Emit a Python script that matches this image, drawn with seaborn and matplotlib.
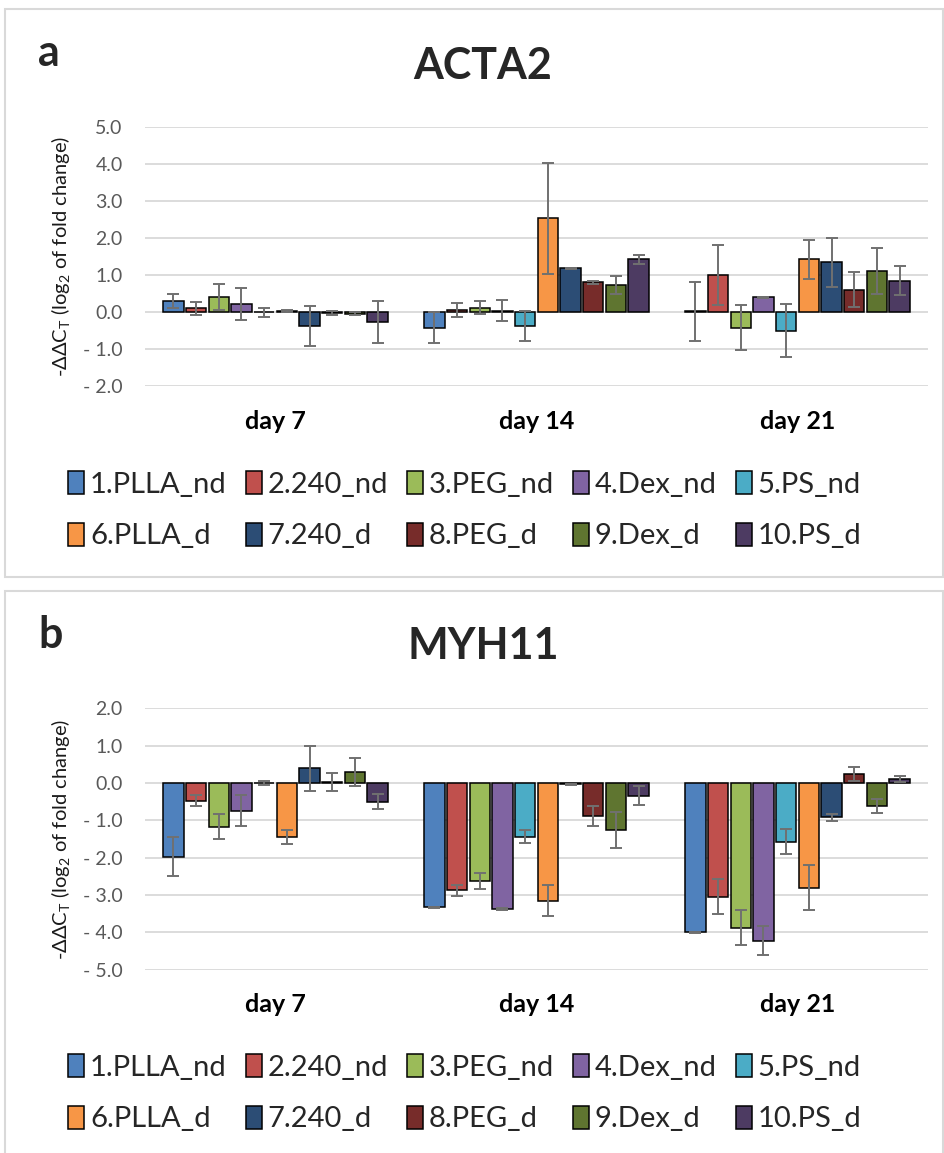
import numpy as np
import pandas as pd
import matplotlib
matplotlib.use('Agg')
import matplotlib.pyplot as plt
from matplotlib.patches import Rectangle
import seaborn as sns

# groups / days
groups = ['1.PLLA_nd', '2.240_nd', '3.PEG_nd', '4.Dex_nd', '5.PS_nd',
          '6.PLLA_d', '7.240_d', '8.PEG_d', '9.Dex_d', '10.PS_d']
days = ['day 7', 'day 14', 'day 21']
colors = ['#4F81BD', '#C0504D', '#9BBB59', '#8064A2', '#4BACC6',
          '#F79646', '#2C4D75', '#772C2A', '#5F7530', '#4D3B62']

# ACTA2 (-ddCt), one list per day, groups in order
acta2_d7 = [0.30, 0.10, 0.40, 0.22, -0.01, 0.03, -0.37, -0.03, -0.04, -0.27]
acta2_d14 = [-0.42, 0.06, 0.12, 0.04, -0.37, 2.53, 1.18, 0.80, 0.73, 1.42]
acta2_d21 = [0.02, 1.00, -0.42, 0.40, -0.50, 1.42, 1.34, 0.60, 1.12, 0.85]
acta2_err_d7 = [0.18, 0.18, 0.35, 0.42, 0.12, 0.04, 0.53, 0.05, 0.05, 0.56]
acta2_err_d14 = [0.41, 0.19, 0.17, 0.28, 0.40, 1.50, 0.02, 0.03, 0.25, 0.12]
acta2_err_d21 = [0.80, 0.82, 0.60, 0.02, 0.72, 0.53, 0.65, 0.47, 0.62, 0.40]

# MYH11 (-ddCt)
myh11_d7 = [-1.97, -0.47, -1.17, -0.74, 0.00, -1.45, 0.39, 0.03, 0.30, -0.50]
myh11_d14 = [-3.33, -2.87, -2.63, -3.37, -1.44, -3.15, -0.04, -0.88, -1.27, -0.34]
myh11_d21 = [-4.00, -3.05, -3.87, -4.22, -1.57, -2.80, -0.92, 0.24, -0.62, 0.10]
myh11_err_d7 = [0.52, 0.15, 0.33, 0.41, 0.05, 0.18, 0.61, 0.25, 0.38, 0.20]
myh11_err_d14 = [0.02, 0.15, 0.22, 0.02, 0.18, 0.42, 0.01, 0.26, 0.48, 0.25]
myh11_err_d21 = [0.02, 0.47, 0.47, 0.38, 0.34, 0.60, 0.10, 0.20, 0.18, 0.08]

FONT = ['Lato', 'DejaVu Sans']
sns.set_theme(style='white')
plt.rcParams['font.family'] = FONT
plt.rcParams['mathtext.fontset'] = 'custom'
plt.rcParams['mathtext.rm'] = 'Lato'
plt.rcParams['mathtext.it'] = 'Lato:italic'


def make_df(vals, errs):
    rows = []
    for d, v_list, e_list in zip(days, vals, errs):
        for g, v, e in zip(groups, v_list, e_list):
            rows.append({'day': d, 'group': g, 'value': v, 'err': e})
    return pd.DataFrame(rows)


def fmt_tick(v):
    return '%.1f' % v if v >= 0 else '- %.1f' % abs(v)


def draw_panel(fig, rect, df, title, letter, ylim, title_y, letter_y, leg_y):
    ax = fig.add_axes(rect)
    sns.barplot(data=df, x='day', y='value', hue='group', hue_order=groups,
                palette=colors, order=days, width=0.87, gap=0.1, saturation=1,
                edgecolor='black', linewidth=1.1, errorbar=None, ax=ax)

    # error bars on each bar (containers: one per group)
    bar_conts = list(ax.containers)
    for k, cont in enumerate(bar_conts):
        sub = df[df['group'] == groups[k]].set_index('day').loc[days]
        for bar, v, e in zip(cont, sub['value'], sub['err']):
            x = bar.get_x() + bar.get_width() / 2
            ax.errorbar(x, v, yerr=e, color='#707070', lw=1.4,
                        capsize=4.5, capthick=1.4, zorder=5)

    ax.set_ylim(*ylim)
    ax.set_xlim(-0.5, 2.5)
    ticks = np.arange(ylim[0], ylim[1] + 0.01, 1.0)
    ax.set_yticks(ticks)
    ax.set_yticklabels([fmt_tick(t) for t in ticks], color='#595959', fontsize=14)
    ax.yaxis.grid(True, color='#d9d9d9', lw=1.3)
    ax.set_axisbelow(True)
    for s in ax.spines.values():
        s.set_visible(False)
    ax.tick_params(axis='both', length=0)
    ax.tick_params(axis='y', pad=16)
    ax.tick_params(axis='x', pad=17)
    for lab in ax.get_xticklabels():
        lab.set_fontweight('bold')
        lab.set_fontsize(18)
        lab.set_color('black')
    ax.set_xlabel('')
    ax.set_ylabel(r'-$\Delta\Delta$C$_\mathregular{T}$ (log$_\mathregular{2}$ of fold change)',
                  fontsize=14.5, color='#1a1a1a', labelpad=8)

    # legend: row-major order, 2 rows x 5 columns
    handles, labels = ax.get_legend_handles_labels()
    order = [i + 5 * r for i in range(5) for r in range(2)]
    ax.get_legend().remove()
    ax.legend([handles[i] for i in order], [labels[i] for i in order],
              loc='upper left', bbox_to_anchor=(68 / 944, leg_y),
              bbox_transform=fig.transFigure, ncol=5, frameon=False,
              fontsize=21, handlelength=0.55, handleheight=0.85,
              handletextpad=0.2, columnspacing=0.65, labelspacing=0.85,
              borderaxespad=0, borderpad=0)

    fig.text(483 / 944, title_y, title,
             ha='center', va='center', fontsize=31, fontweight='bold')
    fig.text(38 / 944, letter_y, letter, ha='left', va='center',
             fontsize=31, fontweight='bold')
    return ax


fig = plt.figure(figsize=(9.44, 11.53), dpi=100)
W, H = 944.0, 1153.0

# panel frames
fig.patches.append(Rectangle((5 / W, 1 - 577 / H), 0.999 - 5 / W, (577 - 9) / H,
                             transform=fig.transFigure, fill=False,
                             edgecolor='#d9d9d9', lw=1.5))
fig.patches.append(Rectangle((5 / W, 1 - 1160 / H), 0.999 - 5 / W, (1160 - 591) / H,
                             transform=fig.transFigure, fill=False,
                             edgecolor='#d9d9d9', lw=1.5))

df_a = make_df([acta2_d7, acta2_d14, acta2_d21],
               [acta2_err_d7, acta2_err_d14, acta2_err_d21])
df_b = make_df([myh11_d7, myh11_d14, myh11_d21],
               [myh11_err_d7, myh11_err_d14, myh11_err_d21])

draw_panel(fig, [145 / W, 1 - 386.3 / H, 783 / W, (386.3 - 126.7) / H],
           df_a, 'ACTA2', 'a', (-2, 5), 1 - 66 / H, 1 - 53 / H, 1 - 471 / H)
draw_panel(fig, [145 / W, 1 - 969.7 / H, 783 / W, (969.7 - 708.3) / H],
           df_b, 'MYH11', 'b', (-5, 2), 1 - 646 / H, 1 - 635 / H, 1 - 1054 / H)

fig.savefig('out.png', dpi=100, facecolor='white')
